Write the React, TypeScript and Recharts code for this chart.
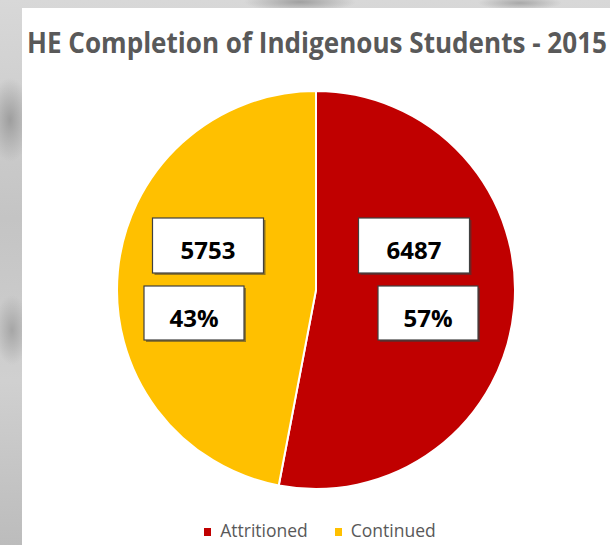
import React, { useLayoutEffect, useRef, useState } from 'react';
import { PieChart, Pie, Cell, Legend } from 'recharts';

const categories = ['Attritioned', 'Continued'];
const values = [6487, 5753];
const percentLabels = ['57%', '43%'];
const colors = ['#C00000', '#FFC000'];
const titleText = 'HE Completion of Indigenous Students - 2015';

const data = categories.map((name, i) => ({ name, value: values[i], pct: percentLabels[i] }));

const RADIAN = Math.PI / 180;

const Box = ({ cx, top, w, h, text }: { cx: number; top: number; w: number; h: number; text: string }) => (
  <g>
    <rect x={cx - w / 2 + 2} y={top + 2} width={w} height={h} fill="#3a3a3a" opacity={0.55} />
    <rect x={cx - w / 2} y={top} width={w} height={h} fill="#ffffff" stroke="#404040" strokeWidth={1.2} />
    <text
      x={cx}
      y={top + 40.5}
      textAnchor="middle"
      fontFamily="'Open Sans', sans-serif"
      fontWeight={700}
      fontSize={24}
      fill="#000000"
    >
      {text}
    </text>
  </g>
);

const renderLabel = (props: any) => {
  const { cx, cy, midAngle, value, payload, index } = props;
  const s = Math.cos(-midAngle * RADIAN) >= 0 ? 1 : -1;
  const vx = cx - 5 + s * 103;
  const px = cx - 5 + s * 117;
  const pct = (payload && payload.pct) || percentLabels[index];
  return (
    <g>
      <Box cx={vx} top={cy - 72} w={111} h={55} text={String(value)} />
      <Box cx={px} top={cy - 4} w={100} h={54} text={pct} />
    </g>
  );
};

const renderLegend = (props: any) => {
  const payload = props.payload || [];
  return (
    <div
      style={{
        display: 'flex',
        justifyContent: 'center',
        alignItems: 'center',
        paddingLeft: 8,
        fontFamily: "'Open Sans', sans-serif",
        fontSize: 17.5,
        lineHeight: '24px',
        color: '#595959',
      }}
    >
      {payload.map((p: any, i: number) => (
        <div key={i} style={{ display: 'flex', alignItems: 'center', marginRight: i === 0 ? 27 : 0 }}>
          <span style={{ display: 'inline-block', width: 7, height: 8, background: p.color, marginRight: 9, marginTop: 3 }} />
          <span>{p.value}</span>
        </div>
      ))}
    </div>
  );
};

const Title = () => {
  const ref = useRef<HTMLSpanElement>(null);
  const [scale, setScale] = useState(0.8);
  useLayoutEffect(() => {
    if (ref.current) {
      const w = ref.current.offsetWidth;
      if (w > 0) setScale(580 / w);
    }
  }, []);
  return (
    <div style={{ position: 'absolute', left: 5, top: 20, width: 580, height: 30, overflow: 'visible' }}>
      <span
        ref={ref}
        style={{
          display: 'inline-block',
          whiteSpace: 'nowrap',
          fontFamily: "'Open Sans', sans-serif",
          fontWeight: 700,
          fontSize: 28,
          lineHeight: '28px',
          color: '#595959',
          transform: `scaleX(${scale})`,
          transformOrigin: 'left center',
        }}
      >
        {titleText}
      </span>
    </div>
  );
};

export default function App() {
  return (
    <div
      style={{
        position: 'absolute',
        left: 0,
        top: 0,
        width: 610,
        height: 545,
        overflow: 'hidden',
        background:
          'radial-gradient(ellipse 30px 60px at 10px 120px, #9e9e9e 0%, transparent 70%), radial-gradient(ellipse 25px 50px at 12px 330px, #a6a6a6 0%, transparent 70%), radial-gradient(ellipse 80px 14px at 300px 2px, #a0a0a0 0%, transparent 70%), radial-gradient(ellipse 60px 10px at 520px 3px, #a8a8a8 0%, transparent 70%), linear-gradient(180deg, #d8d8d8 0%, #c4c4c4 40%, #d0d0d0 70%, #bcbcbc 100%)',
      }}
    >
      <div
        style={{
          position: 'absolute',
          left: 22,
          top: 8,
          width: 588,
          height: 537,
          background: '#ffffff',
        }}
      >
        <Title />
        <div style={{ position: 'absolute', left: 0, top: 0 }}>
          <PieChart width={588} height={537}>
            <Pie
              data={data}
              dataKey="value"
              nameKey="name"
              cx={289}
              cy={277}
              outerRadius={199}
              startAngle={90}
              endAngle={-270}
              stroke="#ffffff"
              strokeWidth={2}
              label={renderLabel}
              labelLine={false}
              isAnimationActive={false}
            >
              {data.map((d, i) => (
                <Cell key={d.name} fill={colors[i]} />
              ))}
            </Pie>
            <Legend
              content={renderLegend}
              wrapperStyle={{ position: 'absolute', left: 0, top: 510, width: 588, height: 24 }}
            />
          </PieChart>
        </div>
      </div>
    </div>
  );
}
